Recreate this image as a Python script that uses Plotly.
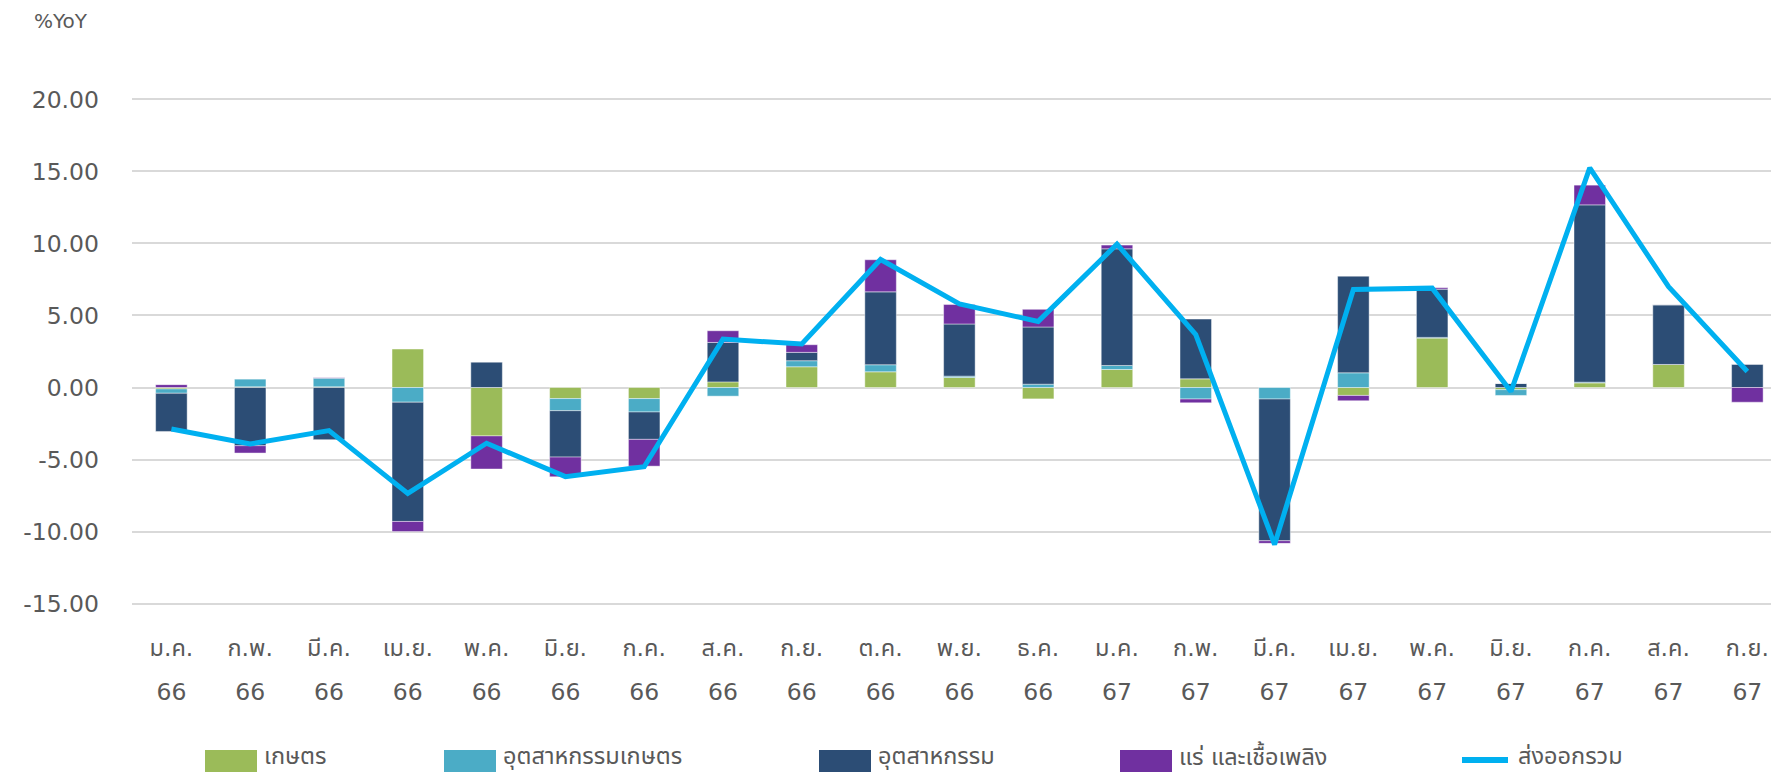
import plotly.graph_objects as go

# Thai export growth by product group, %YoY contribution
months = ["ม.ค.", "ก.พ.", "มี.ค.", "เม.ย.", "พ.ค.", "มิ.ย.", "ก.ค.", "ส.ค.", "ก.ย.", "ต.ค.", "พ.ย.", "ธ.ค.",
          "ม.ค.", "ก.พ.", "มี.ค.", "เม.ย.", "พ.ค.", "มิ.ย.", "ก.ค.", "ส.ค.", "ก.ย."]
years = ["66"] * 12 + ["67"] * 9

series_names = ["เกษตร", "อุตสาหกรรมเกษตร", "อุตสาหกรรม", "แร่ และเชื้อเพลิง", "ส่งออกรวม"]

agri = [-0.10, 0.05, 0.05, 2.67, -3.36, -0.77, -0.77, 0.39, 1.44, 1.09, 0.70, -0.79,
        1.25, 0.60, 0.00, -0.55, 3.43, -0.15, 0.32, 1.60, 0.00]
agro_industry = [-0.30, 0.53, 0.60, -1.02, 0.00, -0.84, -0.93, -0.60, 0.42, 0.49, 0.09, 0.23,
                 0.28, -0.80, -0.80, 1.02, 0.05, -0.40, 0.05, 0.00, 0.00]
industry = [-2.65, -4.04, -3.62, -8.28, 1.76, -3.22, -1.90, 2.74, 0.58, 5.06, 3.62, 3.97,
            8.10, 4.15, -9.84, 6.71, 3.35, 0.28, 12.31, 4.14, 1.60]
mining_fuel = [0.20, -0.51, 0.03, -0.70, -2.30, -1.37, -1.86, 0.81, 0.53, 2.23, 1.35, 1.23,
               0.26, -0.26, -0.18, -0.37, 0.10, 0.00, 1.37, 0.00, -1.02]
total = [-2.88, -3.92, -2.99, -7.35, -3.87, -6.19, -5.50, 3.36, 3.02, 8.89, 5.80, 4.59,
         9.95, 3.67, -10.90, 6.80, 6.90, -0.28, 15.25, 7.00, 1.11]

y_ticks = [-15, -10, -5, 0, 5, 10, 15, 20]

colors = ["#9BBB59", "#4BACC6", "#2C4D75", "#7030A0", "#00B0F0"]
TEXT = "#595959"
FONT = "DejaVu Sans, Noto Sans Thai, Noto Sans, sans-serif"
FS = 23.5

W, H = 1771, 772
M_L, M_R, M_T, M_B = 132, 0, 98, 167

x = list(range(len(months)))

fig = go.Figure()
for name, vals, col in zip(series_names[:4], [agri, agro_industry, industry, mining_fuel], colors[:4]):
    fig.add_trace(go.Bar(
        x=x, y=vals, name=name, width=0.4,
        marker=dict(color=col, line=dict(color="rgba(255,255,255,0.55)", width=0.8)),
        showlegend=False,
    ))

fig.add_trace(go.Scatter(
    x=x, y=total, name=series_names[4], mode="lines", xaxis="x2",
    line=dict(color=colors[4], width=5),
    showlegend=False,
))

x_range = [-0.5, 20.3]

fig.update_layout(
    width=W, height=H,
    margin=dict(l=M_L, r=M_R, t=M_T, b=M_B, pad=0),
    paper_bgcolor="white", plot_bgcolor="white",
    barmode="relative",
    font=dict(family=FONT, color=TEXT, size=FS),
    xaxis=dict(
        range=x_range, tickmode="array", tickvals=x, ticktext=months,
        showgrid=False, zeroline=False, showline=False, ticks="",
        tickfont=dict(size=FS, color=TEXT), ticklabelstandoff=26,
    ),
    xaxis2=dict(
        range=x_range, overlaying="x", anchor="y", side="bottom",
        tickmode="array", tickvals=x, ticktext=years,
        showgrid=False, zeroline=False, showline=False, ticks="",
        tickfont=dict(size=FS, color=TEXT), ticklabelstandoff=70,
    ),
    yaxis=dict(
        range=[-15.1, 20.1], tickmode="array", tickvals=y_ticks,
        ticktext=[f"{v:.2f}" for v in y_ticks],
        showgrid=True, gridcolor="#D9D9D9", gridwidth=2,
        zeroline=False, showline=False, ticks="",
        tickfont=dict(size=FS, color=TEXT), ticklabelstandoff=32,
    ),
)

# axis unit label
fig.add_annotation(
    text="%YoY", xref="paper", yref="paper",
    x=(61 - M_L) / (W - M_L - M_R), y=(H - M_B - 21) / (H - M_T - M_B),
    xanchor="center", yanchor="middle", showarrow=False,
    font=dict(size=20, color=TEXT, family=FONT),
)

# legend row drawn below the axis
plot_w = W - M_L - M_R
plot_h = H - M_T - M_B


def px_x(px):
    return (px - M_L) / plot_w


def px_y(py):
    return (H - M_B - py) / plot_h


legend_left = [205, 444, 819, 1120, 1459]
swatch_w = 52
leg_y = 756
for i, (name, col, left) in enumerate(zip(series_names, colors, legend_left)):
    if i < 4:
        fig.add_shape(type="rect", xref="paper", yref="paper",
                      x0=px_x(left), x1=px_x(left + swatch_w),
                      y0=px_y(772), y1=px_y(750),
                      fillcolor=col, line=dict(width=0))
    else:
        fig.add_shape(type="line", xref="paper", yref="paper",
                      x0=px_x(left + 3), x1=px_x(left + swatch_w - 3),
                      y0=px_y(760), y1=px_y(760),
                      line=dict(color=col, width=6))
    fig.add_annotation(text=name, xref="paper", yref="paper",
                       x=px_x(left + swatch_w + 5), y=px_y(leg_y),
                       xanchor="left", yanchor="middle", showarrow=False,
                       font=dict(size=FS, color=TEXT, family=FONT))

fig.write_html("out.html")
